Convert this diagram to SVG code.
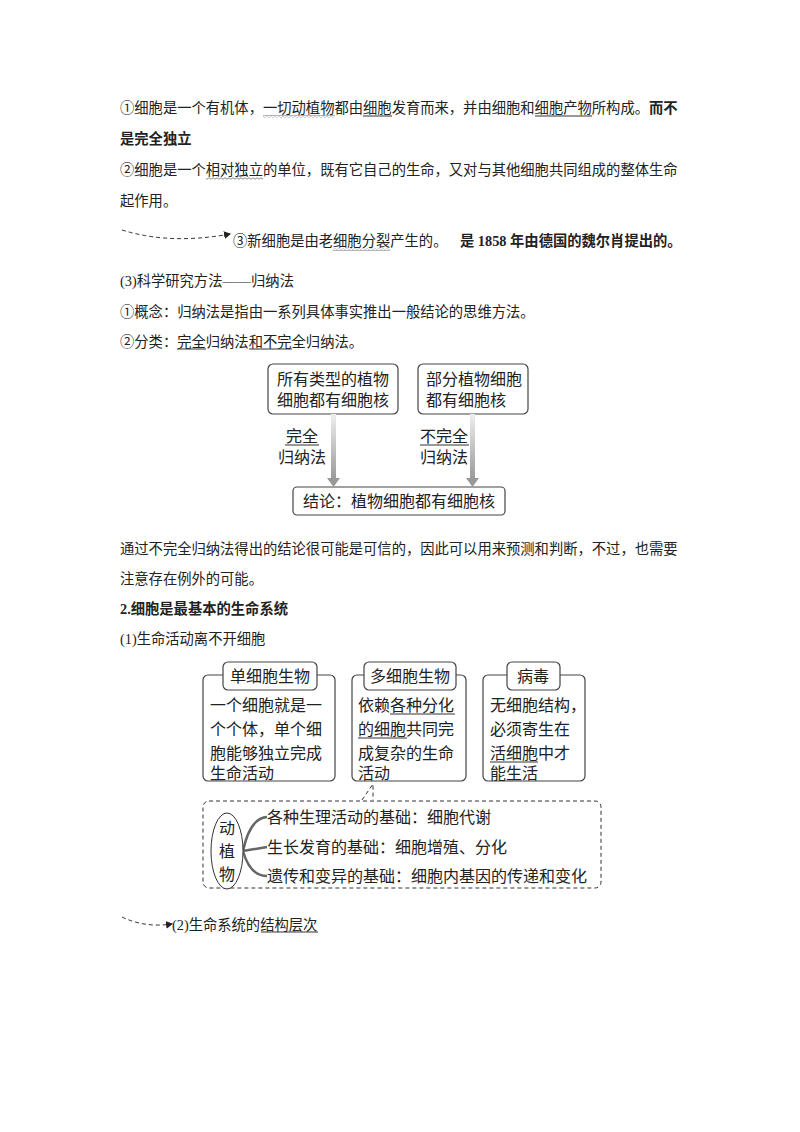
<svg xmlns="http://www.w3.org/2000/svg" width="800" height="1132" viewBox="0 0 800 1132">
<style>
text{font-family:"Liberation Serif","Noto Sans CJK SC",serif;fill:#222}
.t{font-size:14.3px}
.b{font-weight:bold}
.d{font-size:16px}
.box{fill:#fff;stroke:#444;stroke-width:1.2}
.ul{stroke:#333;stroke-width:1;fill:none}
.dash{fill:none;stroke:#333;stroke-width:1;stroke-dasharray:4 3}
</style>
<defs>
<pattern id="wave" width="4" height="3" patternUnits="userSpaceOnUse">
<path d="M0 1.5 Q1 0 2 1.5 T4 1.5" fill="none" stroke="#555" stroke-width="0.7"/>
</pattern>
<marker id="ah" markerWidth="8" markerHeight="8" refX="6" refY="4" orient="auto"><path d="M0 0 L7 4 L0 8 Z" fill="#222"/></marker>
<linearGradient id="ga" x1="0" y1="0" x2="0" y2="1"><stop offset="0" stop-color="#eee"/><stop offset="1" stop-color="#999"/></linearGradient>
</defs>

<text class="t" x="120" y="113">①细胞是一个有机体，一切动植物都由细胞发育而来，并由细胞和细胞产物所构成。<tspan class="b">而不</tspan></text>
<rect x="263" y="115" width="72" height="3" fill="url(#wave)"/>
<line class="ul" x1="363" y1="116" x2="392" y2="116"/>
<line class="ul" x1="535" y1="116" x2="592" y2="116"/>
<text class="t b" x="120" y="144">是完全独立</text>
<text class="t" x="120" y="175">②细胞是一个相对独立的单位，既有它自己的生命，又对与其他细胞共同组成的整体生命</text>
<rect x="206" y="177" width="57" height="3" fill="url(#wave)"/>
<text class="t" x="120" y="206">起作用。</text>
<path class="dash" d="M122 230 Q170 245 230 234" marker-end="url(#ah)"/>
<text class="t" x="233" y="246">③新细胞是由老细胞分裂产生的。</text>
<rect x="333" y="248" width="57" height="3" fill="url(#wave)"/>
<text class="t b" x="460" y="246">是 1858 年由德国的魏尔肖提出的。</text>
<text class="t" x="120" y="286">(3)科学研究方法——归纳法</text>
<text class="t" x="120" y="317">①概念：归纳法是指由一系列具体事实推出一般结论的思维方法。</text>
<text class="t" x="120" y="347">②分类：完全归纳法和不完全归纳法。</text>
<line class="ul" x1="177" y1="349" x2="206" y2="349"/>
<line class="ul" x1="249" y1="349" x2="292" y2="349"/>

<g id="induction">
<g id="box-all"><rect class="box" x="268" y="364" width="130" height="50" rx="5"/>
<text class="d" x="333" y="385" text-anchor="middle">所有类型的植物</text>
<text class="d" x="333" y="406" text-anchor="middle">细胞都有细胞核</text></g>
<g id="box-part"><rect class="box" x="418" y="364" width="110" height="50" rx="5"/>
<text class="d" x="426" y="385">部分植物细胞</text>
<text class="d" x="426" y="406">都有细胞核</text></g>
<g id="box-concl"><rect class="box" x="293" y="487" width="212" height="28" rx="4"/>
<text class="d" x="399" y="507" text-anchor="middle">结论：植物细胞都有细胞核</text></g>
</g>
<g id="connectors">
<rect x="331" y="414" width="5" height="66" fill="url(#ga)"/>
<path d="M327 478 L340 478 L333.5 487 Z" fill="#999"/>
<rect x="470" y="414" width="5" height="66" fill="url(#ga)"/>
<path d="M466 478 L479 478 L472.5 487 Z" fill="#999"/>
<text class="d" x="302" y="442" text-anchor="middle">完全</text>
<line class="ul" x1="285" y1="445" x2="319" y2="445"/>
<text class="d" x="302" y="463" text-anchor="middle">归纳法</text>
<text class="d" x="444" y="442" text-anchor="middle">不完全</text>
<line class="ul" x1="420" y1="445" x2="469" y2="445"/>
<text class="d" x="444" y="463" text-anchor="middle">归纳法</text>
<path class="dash" d="M362 800 L373 784 L373 800"/>
<path d="M243 851 Q250 818 267 817 M243 851 L267 847 M243 851 Q250 876 267 876" fill="none" stroke="#666" stroke-width="2.5"/>
<path class="dash" d="M122 917 Q145 928 172 924" marker-end="url(#ah)"/>
</g>

<text class="t" x="120" y="554">通过不完全归纳法得出的结论很可能是可信的，因此可以用来预测和判断，不过，也需要</text>
<text class="t" x="120" y="584">注意存在例外的可能。</text>
<text class="t b" x="120" y="614">2.细胞是最基本的生命系统</text>
<text class="t" x="120" y="644">(1)生命活动离不开细胞</text>

<g id="uni">
<rect class="box" x="203" y="675" width="132" height="106" rx="5"/>
<rect class="box" x="223" y="662" width="94" height="28" rx="5"/>
<text class="d" x="270" y="682" text-anchor="middle">单细胞生物</text>
<text class="d" x="210" y="711">一个细胞就是一</text>
<text class="d" x="210" y="735">个个体，单个细</text>
<text class="d" x="210" y="759">胞能够独立完成</text>
<text class="d" x="210" y="783" dy="-4">生命活动</text>
</g>
<g id="multi">
<rect class="box" x="352" y="675" width="114" height="106" rx="5"/>
<rect class="box" x="364" y="662" width="92" height="28" rx="5"/>
<text class="d" x="410" y="682" text-anchor="middle">多细胞生物</text>
<text class="d" x="358" y="711">依赖各种分化</text>
<line class="ul" x1="390" y1="714" x2="455" y2="714"/>
<text class="d" x="358" y="735">的细胞共同完</text>
<line class="ul" x1="358" y1="738" x2="407" y2="738"/>
<text class="d" x="358" y="759">成复杂的生命</text>
<text class="d" x="358" y="779">活动</text>
</g>
<g id="virus">
<rect class="box" x="483" y="675" width="102" height="106" rx="5"/>
<rect class="box" x="507" y="662" width="53" height="28" rx="5"/>
<text class="d" x="533" y="682" text-anchor="middle">病毒</text>
<text class="d" x="490" y="711">无细胞结构，</text>
<text class="d" x="490" y="735">必须寄生在</text>
<text class="d" x="490" y="759">活细胞中才</text>
<line class="ul" x1="490" y1="762" x2="538" y2="762"/>
<text class="d" x="490" y="779">能生活</text>
</g>
<g id="animals-plants">
<rect class="dash" x="203" y="801" width="398" height="87" rx="6"/>
<ellipse cx="227" cy="851" rx="16" ry="38" fill="#fff" stroke="#333"/>
<text class="d" x="227" y="834" text-anchor="middle">动</text>
<text class="d" x="227" y="857" text-anchor="middle">植</text>
<text class="d" x="227" y="880" text-anchor="middle">物</text>
<text class="d" x="267" y="823">各种生理活动的基础：细胞代谢</text>
<text class="d" x="267" y="853">生长发育的基础：细胞增殖、分化</text>
<text class="d" x="267" y="882">遗传和变异的基础：细胞内基因的传递和变化</text>
</g>
<text class="t" x="172" y="930">(2)生命系统的结构层次</text>
<line class="ul" x1="261" y1="932" x2="318" y2="932"/>
</svg>
